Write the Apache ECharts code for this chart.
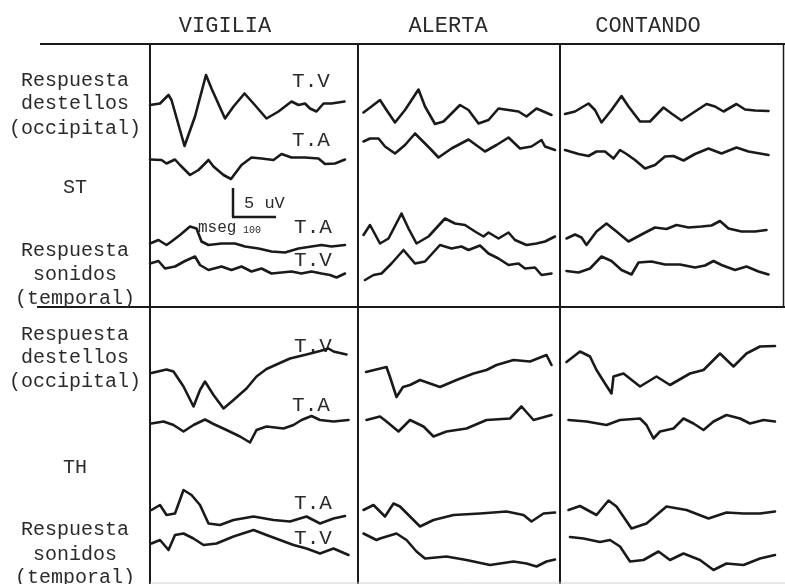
<!DOCTYPE html>
<html><head><meta charset="utf-8">
<script src="https://cdn.jsdelivr.net/npm/echarts@6/dist/echarts.min.js"></script>
<style>html,body{margin:0;padding:0;background:#fff}#c{width:785px;height:584px}</style>
</head><body><div id="c"></div>
<script>
// Column headings and row labels
const conditions = ['VIGILIA', 'ALERTA', 'CONTANDO'];
const groups = ['ST', 'TH'];
const traceLabels = ['T.V', 'T.A', 'T.A', 'T.V', 'T.V', 'T.A', 'T.A', 'T.V'];

// Baselines (µV above the bottom of the figure) for the 8 traces of each column:
// ST destellos T.V, ST destellos T.A, ST sonidos T.A, ST sonidos T.V,
// TH destellos T.V, TH destellos T.A, TH sonidos T.A, TH sonidos T.V
const baseVigilia  = [95.8, 84.8, 68.2, 63.8, 42.2, 32.2, 14.8, 8.2];
const baseAlerta   = [94.4, 88.4, 69.8, 61.2, 42.4, 32.8, 14.8, 9.8];
const baseContando = [94.0, 86.6, 69.0, 62.6, 44.4, 32.8, 14.8, 9.4];

// Traces: [time ms, amplitude µV]
// VIGILIA
const vST_fTV = [[0,0],[20,0.3],[37,2.0],[43,1.0],[69,-8.2],[90,-2.3],[112,6.0],[123,3.3],[150,-2.7],[167,-0.3],[189,2.3],[207,0.3],[233,-2.7],[257,-1.3],[283,0.7],[297,0],[310,0.3],[320,-0.7],[333,-1.3],[347,0.3],[363,0.3],[389,0.7]];
const vST_fTA = [[0,0.1],[23,0],[33,-0.7],[50,0.1],[60,-1.0],[80,-3.0],[97,-2.0],[117,0],[127,-1.3],[147,-3.0],[162,-3.8],[183,-1.0],[203,0.5],[223,0.3],[247,0],[263,1.2],[283,0.5],[310,0.5],[337,0.3],[350,-0.8],[370,-0.7],[390,0.1]];
const vST_sTA = [[0,-0.1],[17,0.6],[33,-0.4],[43,0.3],[60,1.6],[80,3.3],[93,2.9],[103,0.3],[117,-0.4],[143,-0.1],[170,-0.1],[190,-0.7],[217,-1.1],[243,-1.7],[270,-1.9],[297,-1.1],[323,-0.7],[343,-0.4],[363,-0.7],[390,-0.4]];
const vST_sTV = [[0,0.3],[17,0.8],[30,-0.7],[50,-0.3],[70,0.8],[90,1.7],[100,0],[117,-1.0],[143,-0.3],[163,-1.0],[183,-0.3],[203,-1.3],[223,-0.7],[243,-1.7],[263,-1.5],[283,-1.3],[303,-1.7],[323,-1.3],[343,-1.7],[360,-2.0],[373,-2.5],[390,-1.7]];
const vTH_fTV = [[3,0],[33,0.7],[47,0.3],[67,-2.7],[87,-6.7],[100,-3.4],[110,-1.7],[127,-4.4],[147,-7.1],[167,-5.4],[193,-3.1],[213,-0.7],[233,0.8],[253,1.7],[280,2.9],[313,3.7],[340,4.4],[357,4.9],[367,4.3],[393,3.7]];
const vTH_fTA = [[3,-0.1],[27,0.3],[47,-0.4],[67,-1.7],[87,-0.4],[110,0.7],[127,-0.2],[153,-1.4],[180,-2.7],[200,-3.9],[213,-1.4],[233,-0.7],[267,-1.1],[287,-0.4],[303,0.6],[323,1.4],[340,0.6],[367,0.3],[397,0.6]];
const vTH_sTA = [[3,0],[20,1.0],[33,-1.0],[50,-0.7],[67,4.0],[83,3.0],[100,1.0],[117,-2.7],[140,-3.0],[167,-2.0],[207,-1.3],[247,-2.0],[280,-2.3],[313,-1.3],[340,-2.7],[367,-1.7],[390,-1.2]];
const vTH_sTV = [[3,-0.1],[20,0.6],[37,-1.4],[50,1.6],[67,1.9],[87,0.9],[107,-0.4],[133,-0.1],[167,1.3],[207,2.6],[233,1.6],[260,0.6],[287,-0.4],[313,-1.1],[340,-2.1],[367,-1.1],[397,-2.4]];
// ALERTA
const aST_fTV = [[11,-0.1],[27,1.1],[44,2.4],[57,0.4],[74,-2.1],[94,0.4],[121,4.5],[134,1.1],[154,-2.4],[171,-1.9],[204,1.4],[221,0.4],[241,-2.3],[261,-1.6],[281,0.7],[301,0.4],[321,0.1],[337,-0.9],[357,0.7],[371,0.1],[387,-0.6]];
const aST_fTA = [[11,0.1],[24,0.7],[41,0.7],[54,-0.9],[74,-2.3],[94,-0.6],[114,1.7],[127,0.4],[144,-1.3],[161,-3.1],[187,-1.3],[221,0.5],[254,-1.9],[277,-0.6],[301,0.9],[324,-1.3],[347,-0.9],[367,0.4],[374,-0.9],[394,-1.6]];
const aST_sTA = [[11,0],[24,2.0],[44,-1.7],[61,-0.7],[87,4.3],[101,1.3],[117,-1.7],[141,-0.3],[174,3.3],[194,2.3],[214,2.0],[234,0.7],[251,-0.3],[261,0.5],[281,-0.7],[301,0.5],[314,-1.0],[337,-2.0],[357,-1.7],[374,-1.3],[394,-0.3]];
const aST_sTV = [[14,-0.4],[31,0.6],[47,0.9],[67,2.9],[91,5.6],[114,2.9],[134,3.3],[164,6.6],[187,5.9],[207,6.3],[221,5.6],[244,6.5],[261,4.9],[281,3.9],[301,2.6],[321,2.9],[334,1.9],[354,2.1],[367,0.6],[387,0.9]];
const aTH_fTV = [[16,0],[57,1.0],[64,-1.0],[77,-5.0],[90,-3.0],[104,-2.6],[124,-1.6],[164,-3.0],[197,-1.6],[231,-0.3],[257,0.4],[277,1.4],[311,2.4],[344,2.1],[377,3.4],[387,1.4]];
const aTH_fTA = [[17,0],[44,0.7],[57,-0.3],[81,-2.3],[104,0],[131,-1.3],[151,-3.3],[177,-2.3],[217,-1.7],[257,0],[304,0.3],[327,2.7],[351,0],[387,1.0]];
const aTH_sTA = [[11,0],[31,1.0],[54,-1.3],[71,1.3],[84,0.7],[104,-1.3],[124,-3.3],[151,-2.0],[191,-1.0],[244,-0.7],[297,-0.3],[331,-1.0],[347,-2.3],[371,-0.7],[394,-0.5]];
const aTH_sTV = [[11,0.3],[37,-1.0],[44,-0.7],[77,0.3],[97,-1.0],[117,-3.3],[134,-4.7],[177,-4.3],[217,-5.0],[264,-6.0],[311,-5.3],[337,-5.7],[357,-6.3],[377,-5.3],[394,-4.9]];
// CONTANDO
const cST_fTV = [[10,0],[30,0.5],[57,2.1],[70,0.8],[83,-1.7],[103,0.8],[123,3.6],[137,1.5],[160,-1.5],[180,-1.5],[207,1.3],[223,0.1],[243,-1.3],[270,0.5],[293,2.0],[310,1.5],[327,0.5],[353,2.0],[370,0.9],[390,0.7],[417,0.6]];
const cST_fTA = [[10,0.2],[37,-0.6],[57,-1.0],[73,-0.1],[90,-0.1],[107,-1.5],[120,0.2],[133,-0.6],[150,-1.8],[170,-3.5],[190,-2.8],[210,-1.1],[227,-1.0],[247,-1.9],[270,-0.6],[297,0.5],[323,-0.5],[353,0.7],[377,-0.1],[417,-0.8]];
const cST_sTA = [[13,0.1],[30,0.9],[43,0.3],[53,-1.2],[73,1.5],[93,3.1],[113,1.5],[137,-0.5],[163,0.9],[190,2.3],[213,2.0],[233,2.8],[257,2.3],[283,2.5],[303,2.7],[320,3.6],[337,2.1],[363,1.5],[390,1.5],[413,1.8]];
const cST_sTV = [[13,0],[37,-0.3],[60,0.5],[83,2.9],[103,2.0],[123,0.2],[143,-0.7],[157,1.7],[183,1.9],[210,1.3],[240,1.3],[270,0.7],[290,1.1],[307,2.0],[323,1.2],[350,0.2],[373,0.9],[397,-0.1],[417,-0.7]];
const cTH_fTV = [[13,0],[40,2.1],[60,1.1],[73,-1.6],[90,-4.3],[103,-6.3],[107,-2.9],[127,-2.3],[160,-4.9],[193,-2.9],[220,-4.6],[260,-2.3],[287,-1.6],[320,1.7],[347,-0.9],[373,1.7],[400,3.1],[430,3.2]];
const cTH_fTA = [[17,0],[53,-0.3],[93,-1.0],[120,0],[160,0.3],[173,-1.0],[187,-3.7],[200,-2.3],[227,-1.7],[247,0.3],[267,-0.7],[287,-2.0],[307,-0.3],[333,1.0],[360,0.3],[380,-0.7],[407,0],[430,-0.3]];
const cTH_sTA = [[17,0],[40,0.8],[73,-1.0],[97,1.9],[113,0.7],[143,-3.7],[173,-2.7],[213,0.7],[253,0],[297,-1.7],[333,-0.5],[367,-0.7],[400,-0.7],[430,-0.3]];
const cTH_sTV = [[20,0],[47,-0.3],[80,-1.0],[100,-0.6],[120,-1.9],[140,-4.9],[167,-4.6],[197,-2.9],[220,-4.6],[247,-3.3],[280,-4.6],[307,-6.6],[333,-5.3],[367,-5.6],[400,-4.3],[430,-3.6]];

// ---- layout (not data) ----
const FONT = '"Liberation Mono", "DejaVu Sans Mono", monospace';
const INK = '#1a1a1a';
const TXT = '#2b2b2b';
const columns = [
  {left: 150, width: 208, xMax: 416, base: baseVigilia,  traces: [vST_fTV, vST_fTA, vST_sTA, vST_sTV, vTH_fTV, vTH_fTA, vTH_sTA, vTH_sTV], head: 225},
  {left: 358, width: 202, xMax: 404, base: baseAlerta,   traces: [aST_fTV, aST_fTA, aST_sTA, aST_sTV, aTH_fTV, aTH_fTA, aTH_sTA, aTH_sTV], head: 448},
  {left: 560, width: 223, xMax: 446, base: baseContando, traces: [cST_fTV, cST_fTA, cST_sTA, cST_sTV, cTH_fTV, cTH_fTA, cTH_sTA, cTH_sTV], head: 648}
];

const grid = [], xAxis = [], yAxis = [], series = [];
columns.forEach((col, c) => {
  grid.push({left: col.left, width: col.width, top: 44, height: 540, show: false});
  xAxis.push({type: 'value', gridIndex: c, min: 0, max: col.xMax, show: false});
  yAxis.push({type: 'value', gridIndex: c, min: 0, max: 108, show: false});
  col.traces.forEach((tr, k) => {
    series.push({
      type: 'line', xAxisIndex: c, yAxisIndex: c,
      name: conditions[c] + ' ' + groups[k < 4 ? 0 : 1] + ' ' + traceLabels[k],
      data: tr.map(p => [p[0], col.base[k] + p[1]]),
      showSymbol: false, silent: true,
      lineStyle: {color: INK, width: 2.6, join: 'round', cap: 'round'}
    });
  });
});

function line(x1, y1, x2, y2, w, color) {
  return {type: 'line', shape: {x1, y1, x2, y2}, style: {stroke: color || INK, lineWidth: w}, silent: true};
}
function txt(x, y, s, size, align) {
  return {type: 'text', x, y, silent: true,
    style: {text: s, font: size + 'px ' + FONT, fill: TXT, align: align || 'center', verticalAlign: 'middle'}};
}

const graphic = [
  line(40, 44, 785, 44, 2),
  line(37, 307, 785, 307, 2),
  line(150, 44, 150, 584, 2),
  line(358, 44, 358, 584, 2),
  line(560, 44, 560, 584, 2),
  line(783.5, 44, 783.5, 307, 1.5),
  line(150, 583, 785, 583, 1, '#cfcfcf'),
  // scale bar
  line(233, 188, 233, 217, 2.5),
  line(232, 217, 276, 217, 2.5)
];
columns.forEach((col, c) => graphic.push(txt(col.head, 26, conditions[c], 22)));

const leftLabels = [
  ['Respuesta', 81], ['destellos', 104], ['(occipital)', 129], [groups[0], 188],
  ['Respuesta', 251], ['sonidos', 275], ['(temporal)', 299],
  ['Respuesta', 335], ['destellos', 358], ['(occipital)', 382], [groups[1], 468],
  ['Respuesta', 530], ['sonidos', 555], ['(temporal)', 578]
];
leftLabels.forEach(([s, y]) => graphic.push(txt(75, y, s, 20)));

const tLabelPos = [[311, 81], [311, 140], [313, 227], [313, 260], [313, 346], [311, 405], [313, 503], [313, 538]];
tLabelPos.forEach((p, k) => graphic.push(txt(p[0], p[1], traceLabels[k], 21)));

graphic.push(txt(244, 203, '5 uV', 17, 'left'));
graphic.push(txt(198, 228, 'mseg', 16, 'left'));
graphic.push(txt(243, 230, '100', 10, 'left'));

const chart = echarts.init(document.getElementById('c'), null, {renderer: 'canvas'});
chart.setOption({animation: false, backgroundColor: '#fff', grid, xAxis, yAxis, series, graphic});
</script>
</body></html>
